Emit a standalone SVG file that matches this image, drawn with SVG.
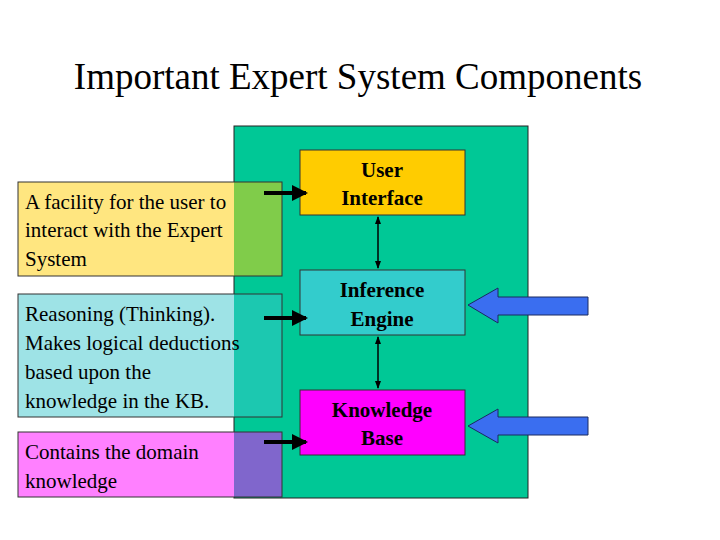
<svg xmlns="http://www.w3.org/2000/svg" width="720" height="540" viewBox="0 0 720 540">
<style>
.t{font-family:"Liberation Serif",serif;font-size:21px;fill:#000}
.b{font-family:"Liberation Serif",serif;font-size:21px;font-weight:bold;fill:#000;text-anchor:middle}
.box{stroke:#333;stroke-width:1}
.blue{fill:#3A6EF0;stroke:#1a2a60;stroke-width:1}
</style>
<defs>
<marker id="ah" markerWidth="4" markerHeight="4" refX="3.5" refY="2" orient="auto" markerUnits="strokeWidth"><path d="M0,0L4,2L0,4z" fill="#000"/></marker>
<marker id="sh" markerWidth="8" markerHeight="8" refX="7" refY="4" orient="auto-start-reverse" markerUnits="userSpaceOnUse"><path d="M0,1L8,4L0,7z" fill="#000"/></marker>
</defs>
<rect width="720" height="540" fill="#fff"/>
<text x="358" y="89" font-family="Liberation Serif,serif" font-size="37" text-anchor="middle">Important Expert System Components</text>
<g id="system"><rect x="234" y="126" width="294" height="372" fill="#00C896" stroke="#222"/></g>
<g id="desc-ui">
<rect x="18" y="182" width="216" height="94" fill="#FFE680"/>
<rect x="234" y="182" width="48" height="94" fill="#80CC4A"/>
<rect x="18" y="182" width="264" height="94" fill="none" class="box"/>
<text class="t" x="25" y="209">A facility for the user to</text>
<text class="t" x="25" y="237">interact with the Expert</text>
<text class="t" x="25" y="266">System</text>
</g>
<g id="desc-ie">
<rect x="18" y="294" width="216" height="123" fill="#9EE3E6"/>
<rect x="234" y="294" width="48" height="123" fill="#1CC8B0"/>
<rect x="18" y="294" width="264" height="123" fill="none" class="box"/>
<text class="t" x="25" y="321">Reasoning (Thinking).</text>
<text class="t" x="25" y="350">Makes logical deductions</text>
<text class="t" x="25" y="379">based upon the</text>
<text class="t" x="25" y="408">knowledge in the  KB.</text>
</g>
<g id="desc-kb">
<rect x="18" y="432" width="216" height="65" fill="#FF80FF"/>
<rect x="234" y="432" width="48" height="65" fill="#8066CC"/>
<rect x="18" y="432" width="264" height="65" fill="none" class="box"/>
<text class="t" x="25" y="459">Contains the domain</text>
<text class="t" x="25" y="488">knowledge</text>
</g>
<g id="ui"><rect x="300" y="150" width="165" height="65" fill="#FFCC00" class="box"/>
<text class="b" x="382" y="177">User</text><text class="b" x="382" y="205">Interface</text></g>
<g id="ie"><rect x="300" y="270" width="165" height="65" fill="#33CCCC" class="box"/>
<text class="b" x="382" y="297">Inference</text><text class="b" x="382" y="326">Engine</text></g>
<g id="kb"><rect x="300" y="390" width="165" height="65" fill="#FF00FF" class="box"/>
<text class="b" x="382" y="417">Knowledge</text><text class="b" x="382" y="445">Base</text></g>
<g id="connectors">
<g stroke="#000" stroke-width="4" fill="none">
<line x1="264" y1="193" x2="306" y2="193" marker-end="url(#ah)"/>
<line x1="264" y1="318" x2="306" y2="318" marker-end="url(#ah)"/>
<line x1="264" y1="442" x2="306" y2="442" marker-end="url(#ah)"/>
</g>
<g stroke="#000" stroke-width="1.5">
<line x1="378" y1="217" x2="378" y2="268" marker-start="url(#sh)" marker-end="url(#sh)"/>
<line x1="378" y1="337" x2="378" y2="388" marker-start="url(#sh)" marker-end="url(#sh)"/>
</g>
<path class="blue" d="M468,305L498,288L498,297L588,297L588,315L498,315L498,323z"/>
<path class="blue" d="M468,426L498,409L498,417L588,417L588,435L498,435L498,443z"/>
</g>
</svg>
